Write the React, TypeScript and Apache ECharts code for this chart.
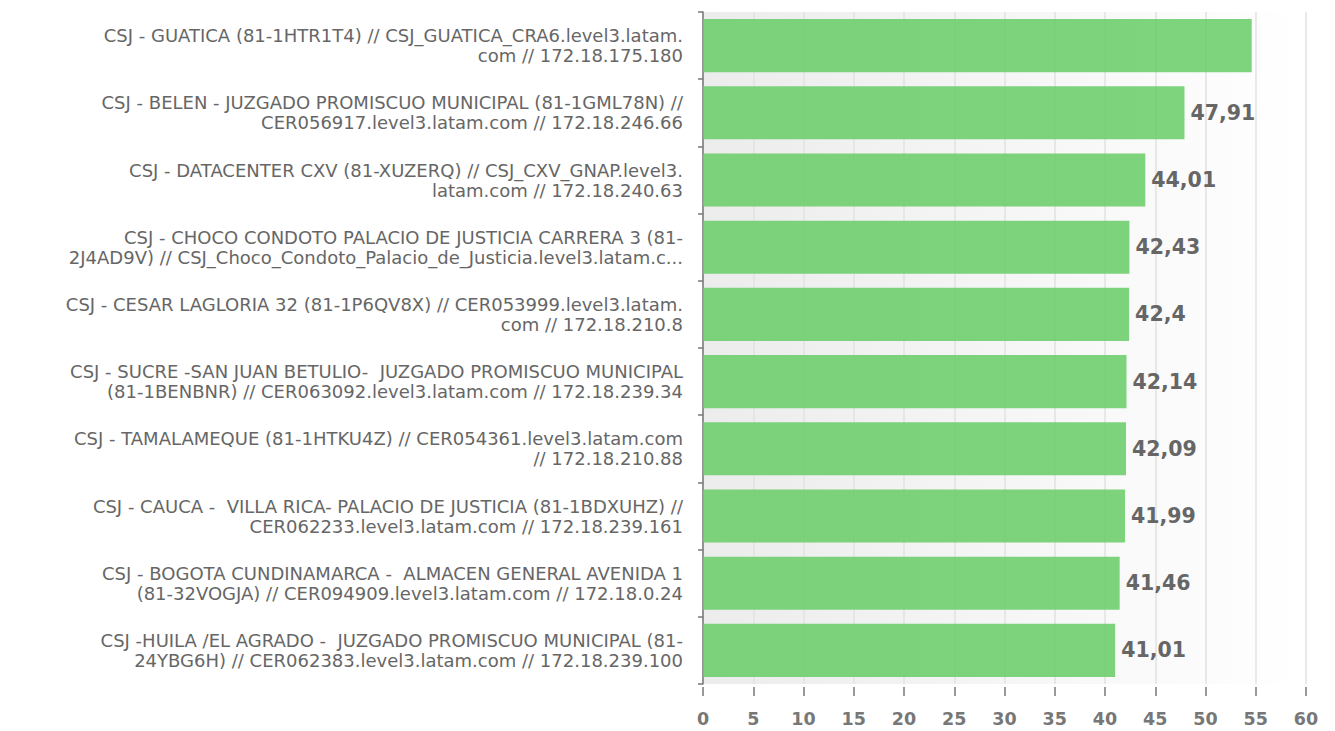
import React, { useEffect, useRef } from "react";
import * as echarts from "echarts";

const categories: string[] = [
  "CSJ - GUATICA (81-1HTR1T4) // CSJ_GUATICA_CRA6.level3.latam.\ncom // 172.18.175.180",
  "CSJ - BELEN - JUZGADO PROMISCUO MUNICIPAL (81-1GML78N) //\nCER056917.level3.latam.com // 172.18.246.66",
  "CSJ - DATACENTER CXV (81-XUZERQ) // CSJ_CXV_GNAP.level3.\nlatam.com // 172.18.240.63",
  "CSJ - CHOCO CONDOTO PALACIO DE JUSTICIA CARRERA 3 (81-\n2J4AD9V) // CSJ_Choco_Condoto_Palacio_de_Justicia.level3.latam.c...",
  "CSJ - CESAR LAGLORIA 32 (81-1P6QV8X) // CER053999.level3.latam.\ncom // 172.18.210.8",
  "CSJ - SUCRE -SAN JUAN BETULIO-  JUZGADO PROMISCUO MUNICIPAL\n(81-1BENBNR) // CER063092.level3.latam.com // 172.18.239.34",
  "CSJ - TAMALAMEQUE (81-1HTKU4Z) // CER054361.level3.latam.com\n// 172.18.210.88",
  "CSJ - CAUCA -  VILLA RICA- PALACIO DE JUSTICIA (81-1BDXUHZ) //\nCER062233.level3.latam.com // 172.18.239.161",
  "CSJ - BOGOTA CUNDINAMARCA -  ALMACEN GENERAL AVENIDA 1\n(81-32VOGJA) // CER094909.level3.latam.com // 172.18.0.24",
  "CSJ -HUILA /EL AGRADO -  JUZGADO PROMISCUO MUNICIPAL (81-\n24YBG6H) // CER062383.level3.latam.com // 172.18.239.100",
];

const values: number[] = [54.6, 47.91, 44.01, 42.43, 42.4, 42.14, 42.09, 41.99, 41.46, 41.01];
const showValueLabel: boolean[] = [false, true, true, true, true, true, true, true, true, true];

const xTicks = { min: 0, max: 60, interval: 5 };

export default function App() {
  const ref = useRef<HTMLDivElement>(null);
  useEffect(() => {
    if (!ref.current) return;
    const chart = echarts.init(ref.current, undefined, { renderer: "svg" });
    const font = "'DejaVu Sans', Verdana, sans-serif";
    chart.setOption({
      animation: false,
      backgroundColor: "#ffffff",
      grid: {
        left: 703,
        right: 29,
        top: 12,
        bottom: 47,
        show: true,
        borderWidth: 0,
        backgroundColor: new echarts.graphic.LinearGradient(0, 0, 1, 0, [
          { offset: 0, color: "#ececec" },
          { offset: 1, color: "#ffffff" },
        ]),
      },
      xAxis: {
        type: "value",
        min: xTicks.min,
        max: xTicks.max,
        interval: xTicks.interval,
        offset: 3,
        axisLine: { show: false },
        axisTick: { show: true, length: 9, lineStyle: { color: "#777", width: 1.5 } },
        axisLabel: {
          margin: 23,
          fontSize: 17.5,
          fontWeight: "bold",
          color: "#777",
          fontFamily: font,
        },
        splitLine: { show: true, lineStyle: { color: "#e2e2e2", width: 1.5 } },
      },
      yAxis: {
        type: "category",
        inverse: true,
        data: categories,
        axisLine: { show: true, lineStyle: { color: "#777", width: 1.5 } },
        axisTick: { show: true, length: 5, alignWithLabel: false, lineStyle: { color: "#777", width: 1.5 } },
        axisLabel: {
          margin: 20,
          fontSize: 18,
          lineHeight: 20,
          color: "#666",
          fontFamily: font,
          align: "right",
        },
        splitLine: { show: false },
      },
      series: [
        {
          type: "bar",
          barCategoryGap: "21%",
          data: values.map((v, i) => ({
            value: v,
            label: { show: showValueLabel[i] },
          })),
          itemStyle: { color: "rgba(104,205,104,0.86)" },
          label: {
            show: true,
            position: "right",
            distance: 6,
            fontSize: 20.5,
            fontWeight: "bold",
            color: "#666",
            fontFamily: font,
            formatter: (p: any) => String(p.value).replace(".", ","),
          },
        },
      ],
    });
    return () => chart.dispose();
  }, []);
  return (
    <div
      ref={ref}
      style={{ position: "absolute", left: 0, top: 0, width: 1335, height: 731 }}
    />
  );
}
